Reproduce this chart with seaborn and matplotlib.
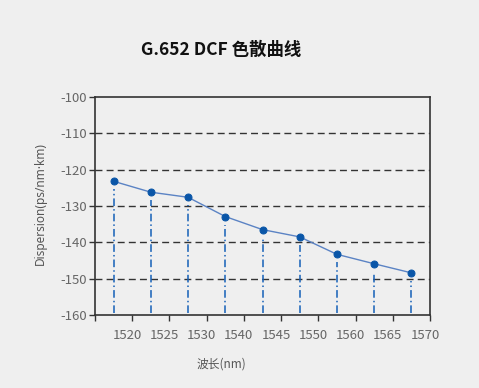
import numpy as np
import pandas as pd
import matplotlib
matplotlib.use('Agg')
import matplotlib.pyplot as plt
import matplotlib.transforms as mtransforms
import seaborn as sns

# Data
wavelength_labels = ['1520', '1525', '1530', '1540', '1545', '1550', '1560', '1565', '1570']
dispersion = [-123.2, -126.2, -127.6, -132.9, -136.5, -138.5, -143.3, -145.9, -148.4]
y_ticks = [-100, -110, -120, -130, -140, -150, -160]

df = pd.DataFrame({'idx': np.arange(len(dispersion)), 'dispersion': dispersion})

sns.set_theme(style='white')
plt.rcParams['font.family'] = ['Noto Sans CJK SC', 'DejaVu Sans']

bg = '#efefef'
fig = plt.figure(figsize=(4.79, 3.88), dpi=100, facecolor=bg)
ax = fig.add_axes([95 / 479, 1 - 315 / 388, 335 / 479, 218 / 388])
ax.set_facecolor(bg)

# horizontal dashed grid
for v in y_ticks[1:-1]:
    ax.axhline(v, color='#333333', lw=1.0, ls=(0, (5, 3)), zorder=1)

# drop lines from each point to bottom, starting a bit below the marker
ymin, ymax = -160, -100
gap = 8 / 218 * (ymax - ymin)
for i, v in enumerate(dispersion):
    ax.plot([i, i], [ymin + 0.5, v - gap], color='#1560b8', lw=1.1,
            ls=(0, (5, 2, 1, 2)), zorder=2)

sns.lineplot(data=df, x='idx', y='dispersion', ax=ax, color='#5b83c4', lw=1.0,
             marker='o', markersize=5, markerfacecolor='#0a56a8',
             markeredgecolor='#0a56a8', zorder=3)

ax.set_xlim(-0.5, len(dispersion) - 0.5)
ax.set_ylim(ymin, ymax)

# category boundary ticks; labels sit on the right edge of each bin, nudged left
ax.set_xticks(np.arange(-0.5, len(dispersion)))
ax.set_xticklabels([''] + wavelength_labels)
ax.tick_params(axis='x', direction='out', length=4, width=1, color='#333333',
               pad=6, labelsize=9.5, labelcolor='#666666')
offset = mtransforms.ScaledTranslation(-5 / 100, 0, fig.dpi_scale_trans)
for lab in ax.get_xticklabels():
    lab.set_transform(lab.get_transform() + offset)

ax.set_yticks(y_ticks)
ax.set_yticklabels([str(t) for t in y_ticks])
ax.tick_params(axis='y', direction='out', length=4, width=1, color='#333333',
               labelsize=9.5, labelcolor='#666666', pad=2)
ax.tick_params(left=True, bottom=True)

for s in ax.spines.values():
    s.set_visible(True)
    s.set_color('#333333')
    s.set_linewidth(1.2)

ax.set_xlabel('')
ax.set_ylabel('')
fig.text(40 / 479, 1 - 204 / 388, 'Dispersion(ps/nm\u00b7km)', rotation=90, ha='center', va='center',
         fontsize=8.5, color='#555555', family=['Noto Sans', 'DejaVu Sans'])
fig.text(221 / 479, 1 - 364 / 388, '波长(nm)', ha='center', va='center', fontsize=8.5, color='#555555')
fig.text(221 / 479, 1 - 50 / 388, 'G.652 DCF 色散曲线', ha='center', va='center',
         fontsize=12.5, fontweight='bold', color='#111111')

fig.savefig('out.png', dpi=100, facecolor=bg)
